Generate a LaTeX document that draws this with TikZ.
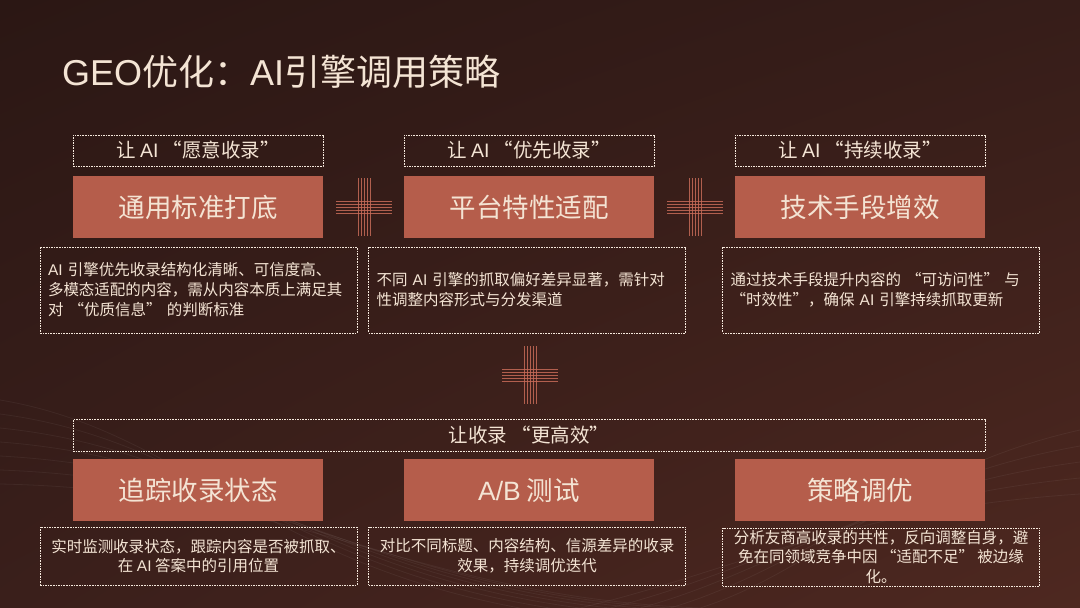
\documentclass[tikz,border=0pt]{standalone}
\usepackage{fontspec}
\setmainfont{Noto Sans CJK SC}
\newfontfamily\latfont{Liberation Sans}
\usetikzlibrary{positioning,shadings}
\definecolor{bgul}{HTML}{2B1714}
\definecolor{bgur}{HTML}{361D19}
\definecolor{bgll}{HTML}{3A1F1B}
\definecolor{bglr}{HTML}{4E2820}
\definecolor{cream}{HTML}{F4E4D4}
\definecolor{rust}{HTML}{B55D4B}
\definecolor{plusred}{HTML}{C76B58}
\newcommand{\lat}[1]{{\latfont #1}}
\newcommand{\crossmark}[3]{%
  \coordinate (#1) at (#2,#3);
  \foreach \d in {-6,-3,0,3,6}{
    \draw[plusline] ([xshift=\d pt,yshift=29pt]#1) -- ([xshift=\d pt,yshift=-29pt]#1);
    \draw[plusline] ([xshift=-28pt,yshift=\d pt]#1) -- ([xshift=28pt,yshift=\d pt]#1);
  }}

\begin{document}
\begin{tikzpicture}[x=1pt,y=-1pt,
  every node/.style={text=cream},
  thinborder/.style={draw=cream!80,dash pattern=on 1.6pt off 1pt,line width=0.7pt},
  tagbox/.style={thinborder,minimum width=250pt,minimum height=31pt,inner sep=0pt,
    font=\fontsize{19.5}{22}\selectfont},
  headbox/.style={fill=rust,minimum width=250pt,minimum height=62pt,inner sep=0pt,
    font=\fontsize{26.5}{30}\selectfont},
  notebox/.style={thinborder,minimum height=86pt,text width=301pt,inner xsep=8pt,
    inner ysep=0pt,align=left,font=\fontsize{15.5}{20}\selectfont},
  lownote/.style={thinborder,minimum width=317pt,minimum height=58pt,inner sep=0pt,
    align=center,font=\fontsize{15.5}{19.5}\selectfont},
  plusline/.style={plusred,line width=0.9pt,opacity=0.85},
  wave/.style={white,opacity=0.05,line width=0.8pt}]
  % background
  \shade[upper left=bgul,upper right=bgur,lower left=bgll,lower right=bglr]
    (0,0) rectangle (1080,608);
  \useasboundingbox (0,0) rectangle (1080,608);
  \foreach \k in {0,...,6}{
    \draw[wave] (0,{400+14*\k}) .. controls ({180+20*\k},{430+10*\k}) and ({260+25*\k},{560+6*\k}) .. ({520+30*\k},608);
  }
  \foreach \k in {0,...,4}{
    \draw[wave] (1080,{430+16*\k}) .. controls ({900-15*\k},{470+10*\k}) and ({820-20*\k},{570}) .. ({700-30*\k},608);
  }
  % title
  \node[anchor=base west,inner sep=0pt,font=\fontsize{36}{40}\selectfont] (title) at (62,85) {\lat{GEO}优化：\lat{AI}引擎调用策略};
  % top row
  \node[tagbox] (tag1) at (198,150.5) {让 \lat{AI} “愿意收录”};
  \node[tagbox] (tag2) at (529,150.5) {让 \lat{AI} “优先收录”};
  \node[tagbox] (tag3) at (860,150.5) {让 \lat{AI} “持续收录”};
  \node[headbox] (head1) at (198,207) {通用标准打底};
  \node[headbox] (head2) at (529,207) {平台特性适配};
  \node[headbox] (head3) at (860,207) {技术手段增效};
  \node[notebox] (note1) at (198.5,290) {\lat{AI} 引擎优先收录结构化清晰、可信度高、\\多模态适配的内容，需从内容本质上满足其\\对 “优质信息” 的判断标准};
  \node[notebox] (note2) at (527,290) {不同 \lat{AI} 引擎的抓取偏好差异显著，需针对\\性调整内容形式与分发渠道};
  \node[notebox] (note3) at (881,290) {通过技术手段提升内容的 “可访问性” 与\\“时效性”，确保 \lat{AI} 引擎持续抓取更新};
  \crossmark{plus1}{364}{207}
  \crossmark{plus2}{695}{207}
  \crossmark{plus3}{530}{375}
  % bottom row
  \node[thinborder,minimum width=912pt,minimum height=32pt,inner sep=0pt,
    font=\fontsize{19.5}{22}\selectfont] (banner) at (529,435.5) {让收录 “更高效”};
  \node[headbox] (head4) at (198,490) {追踪收录状态};
  \node[headbox] (head5) at (529,490) {\lat{A/B} 测试};
  \node[headbox] (head6) at (860,490) {策略调优};
  \node[lownote] (note4) at (198.5,556) {实时监测收录状态，跟踪内容是否被抓取、\\在 \lat{AI} 答案中的引用位置};
  \node[lownote] (note5) at (527,556) {对比不同标题、内容结构、信源差异的收录\\效果，持续调优迭代};
  \node[lownote] (note6) at (881,557) {分析友商高收录的共性，反向调整自身，避\\免在同领域竞争中因 “适配不足” 被边缘\\化。};
\end{tikzpicture}
\end{document}
